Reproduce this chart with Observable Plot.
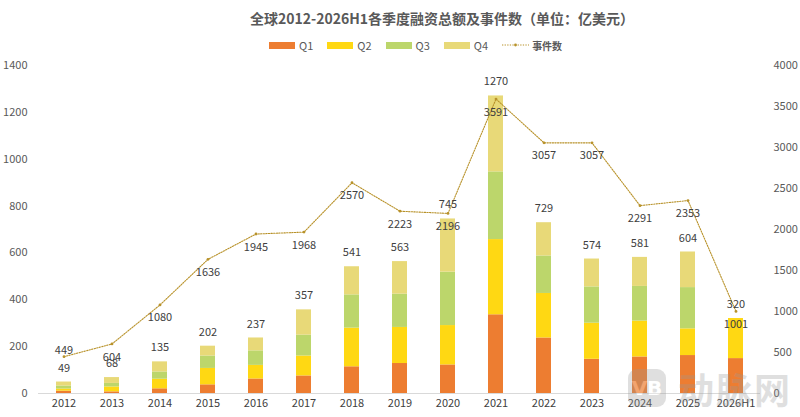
<!DOCTYPE html>
<html>
<head>
<meta charset="utf-8">
<script src="https://cdn.jsdelivr.net/npm/d3@7"></script>
<script src="https://cdn.jsdelivr.net/npm/@observablehq/plot@0.6"></script>
<style>
  body { margin: 0; background: #fff; font-family: "Liberation Sans Narrow", "Noto Sans CJK SC", sans-serif; }
  #wrap { position: relative; width: 800px; height: 417px; overflow: hidden; }
  #header { position: relative; height: 55px; }
  #title { position: absolute; left: 0; width: 884px; top: 8px; text-align: center; font: bold 14px "Noto Sans CJK SC", sans-serif; color: #595959; }
  #legend { position: absolute; left: 269px; top: 37px; display: flex; align-items: center; font: 11px "Liberation Sans Narrow", "Noto Sans CJK SC", sans-serif; color: #595959; }
  .item { display: flex; align-items: center; margin-right: 14px; }
  .sw { width: 26px; height: 7px; margin-right: 4px; }
  #wm { position: absolute; left: 628px; top: 362px; display: flex; align-items: center; opacity: 0.3; pointer-events: none; }
  #wm .logo { width: 38px; height: 38px; border-radius: 9px; background: #999; color: #fff; font: bold 20px "DejaVu Sans", sans-serif; display: flex; align-items: center; justify-content: center; margin-right: 12px; }
  #wm .txt { font: bold 36px "Noto Sans CJK SC", sans-serif; color: #999; letter-spacing: 2px; }
</style>
</head>
<body>
<div id="wrap">
  <div id="header">
    <div id="title">全球2012-2026H1各季度融资总额及事件数（单位：亿美元）</div>
    <div id="legend"></div>
  </div>
  <div id="chart"></div>
  <div id="wm"><div class="logo">VB</div><div class="txt">动脉网</div></div>
</div>
<script>
const years = ["2012","2013","2014","2015","2016","2017","2018","2019","2020","2021","2022","2023","2024","2025","2026H1"];
const quarters = ["Q1","Q2","Q3","Q4"];
const q1 = [10, 7, 20, 37, 62, 75, 114, 128, 122, 336, 237, 146, 156, 162, 149];
const q2 = [9, 21, 41, 70, 58, 85, 165, 154, 168, 321, 190, 154, 153, 114, 171];
const q3 = [13, 15, 31, 53, 62, 89, 142, 142, 228, 289, 160, 155, 148, 176, 0];
const q4 = [17, 25, 43, 42, 55, 108, 120, 139, 227, 324, 142, 119, 124, 152, 0];
const totals = [49, 68, 135, 202, 237, 357, 541, 563, 745, 1270, 729, 574, 581, 604, 320];
const events = [449, 604, 1080, 1636, 1945, 1968, 2570, 2223, 2196, 3591, 3057, 3057, 2291, 2353, 1001];
const leftTicks = [0, 200, 400, 600, 800, 1000, 1200, 1400];
const rightTicks = [0, 500, 1000, 1500, 2000, 2500, 3000, 3500, 4000];
const colors = ["#ED7D31", "#FFD813", "#BCD66B", "#E8D978"];
const lineColor = "#B8922A";

const ratio = 1400 / 4000; // right axis -> left axis units
const series = [q1, q2, q3, q4];
const barData = [];
years.forEach((y, i) => quarters.forEach((q, j) => barData.push({year: y, quarter: q, value: series[j][i]})));
const totalData = years.map((y, i) => ({year: y, total: totals[i]}));
const eventData = years.map((y, i) => ({year: y, count: events[i], scaled: events[i] * ratio, idx: i}));

// legend
const lg = document.getElementById("legend");
quarters.forEach((q, j) => {
  const it = document.createElement("div"); it.className = "item";
  it.innerHTML = `<div class="sw" style="background:${colors[j]}"></div><span>${q}</span>`;
  lg.appendChild(it);
});
const li = document.createElement("div"); li.className = "item";
li.innerHTML = `<svg width="27" height="8" style="margin-right:3px"><line x1="0" x2="27" y1="4" y2="4" stroke="${lineColor}" stroke-width="1.1" stroke-dasharray="1.3,1.3"/><circle cx="13.5" cy="4" r="1.4" fill="${lineColor}"/></svg><span style="font-family:'Noto Sans CJK SC';font-size:10px;font-weight:bold">事件数</span>`;
lg.appendChild(li);

const font = "Liberation Sans Narrow, Noto Sans CJK SC, sans-serif";
const chart = Plot.plot({
  width: 800,
  height: 362,
  marginTop: 10,
  marginBottom: 24,
  marginLeft: 38,
  marginRight: 40,
  style: {fontFamily: font, fontSize: "11px", color: "#595959", background: "#fff"},
  x: {domain: years, paddingInner: 0.69, paddingOuter: 0.345, label: null},
  y: {domain: [0, 1400], label: null},
  color: {domain: quarters, range: colors},
  marks: [
    Plot.axisY({anchor: "left", ticks: leftTicks, tickFormat: d => String(d), tickSize: 0, tickPadding: 11, label: null, fill: "#595959"}),
    Plot.axisY({anchor: "right", ticks: rightTicks.map(v => v * ratio), tickFormat: d => String(Math.round(d / ratio)), tickSize: 0, tickPadding: 13, label: null, fill: "#595959"}),
    Plot.axisX({tickSize: 0, tickPadding: 6, label: null, fill: "#404040"}),
    Plot.barY(barData, {x: "year", y: "value", fill: "quarter"}),
    Plot.ruleY([0], {stroke: "#d9d9d9", strokeWidth: 1}),
    Plot.line(eventData, {x: "year", y: "scaled", stroke: lineColor, strokeWidth: 1.1, strokeDasharray: "1.3,1.3"}),
    Plot.dot(eventData, {x: "year", y: "scaled", r: 1.4, fill: lineColor, stroke: null}),
    Plot.text(totalData, {x: "year", y: "total", text: d => String(d.total), dy: -14, fill: "#404040", fontSize: 11}),
    Plot.text(eventData.filter(d => d.idx > 0), {x: "year", y: "scaled", text: d => String(d.count), dy: 13, fill: "#404040", fontSize: 11}),
    Plot.text(eventData.filter(d => d.idx === 0), {x: "year", y: "scaled", text: d => String(d.count), dy: -6, fill: "#404040", fontSize: 11})
  ]
});
document.getElementById("chart").appendChild(chart);
</script>
</body>
</html>
